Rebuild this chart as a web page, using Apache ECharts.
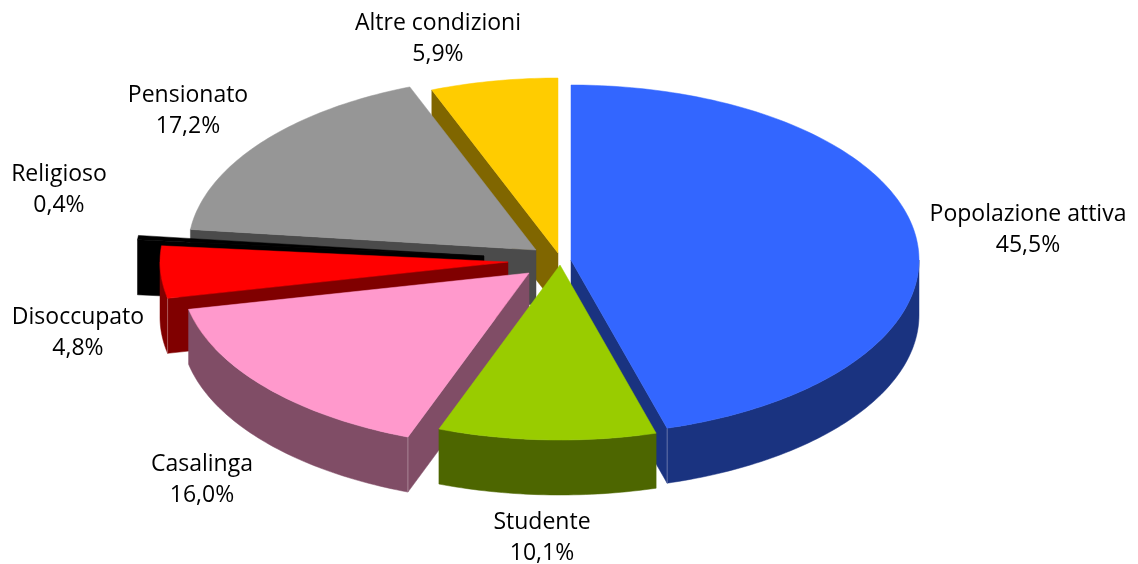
<!DOCTYPE html>
<html>
<head>
    <title>Condizione professionale</title>
    <meta charset="utf-8">
    <style>
        html, body { margin: 0; background: #fff; }
        #pieChart { width: 1138px; height: 564px; }
    </style>
    <script src="https://cdn.jsdelivr.net/npm/echarts@6/dist/echarts.min.js"></script>
</head>
<body>
    <div id="pieChart"></div>

    <script>
        // dati
        var categories = ['Popolazione attiva', 'Studente', 'Casalinga', 'Disoccupato', 'Religioso', 'Pensionato', 'Altre condizioni'];
        var values = [45.5, 10.1, 16.0, 4.8, 0.4, 17.2, 5.9];

        // stile e geometria della torta
        var topColors = ['#3366FF', '#99CC00', '#FF99CC', '#FF0000', '#000000', '#969696', '#FFCC00'];
        var wallColors = ['#1A3380', '#4D6600', '#804D66', '#800000', '#000000', '#4B4B4B', '#806600'];
        var explode = [[11, 4], [0, 9], [-31, 17], [-52, 6], [-76, 0], [-24, -6], [-2, -3]];
        var drawOrder = [5, 6, 4, 3, 2, 1, 0]; // yellow and grey at the back, green last
        var labelPos = [[1028, 230], [542, 538], [202, 480], [78, 333], [59, 190], [188, 111], [438, 39]];
        var cx = 560, cy = 256, rx = 348, ry = 175, depth = 55;

        var total = values.reduce(function (a, b) { return a + b; }, 0);

        var startAngles = [];
        var acc = 0;
        values.forEach(function (v, i) {
            startAngles[i] = acc / total * Math.PI * 2;
            acc += v;
        });

        function rimPoint(apex, a) {
            return [apex[0] + rx * Math.sin(a), apex[1] - ry * Math.cos(a)];
        }

        function down(p) {
            return [p[0], p[1] + depth];
        }

        function arcPoints(apex, from, to) {
            var pts = [];
            var n = Math.max(2, Math.ceil((to - from) / (Math.PI / 180)));
            for (var k = 0; k <= n; k++) {
                pts.push(rimPoint(apex, from + (to - from) * k / n));
            }
            return pts;
        }

        function sliceShape(params, api) {
            var i = api.value(0);
            var start = startAngles[i];
            var end = start + api.value(1) / total * Math.PI * 2;
            var apex = [cx + explode[i][0], cy + explode[i][1]];
            var order = drawOrder[i] * 10;

            var children = [];
            function poly(points, fill, z2) {
                children.push({
                    type: 'polygon',
                    shape: { points: points },
                    style: { fill: fill, stroke: fill, lineWidth: 0.5 },
                    z2: order + z2
                });
            }
            function seam(a) {
                var p = rimPoint(apex, a);
                children.push({
                    type: 'line',
                    shape: { x1: p[0], y1: p[1], x2: p[0], y2: p[1] + depth },
                    style: { stroke: 'rgba(255,255,255,0.3)', lineWidth: 1 },
                    z2: order + 3
                });
            }

            // parete esterna, solo la parte davanti
            var wallFrom = Math.max(start, Math.PI / 2);
            var wallTo = Math.min(end, Math.PI * 1.5);
            if (wallTo > wallFrom) {
                var wall = arcPoints(apex, wallFrom, wallTo);
                poly(wall.concat(wall.map(down).reverse()), wallColors[i], 1);
            }

            // tagli visibili
            var cut = [];
            if (Math.sin(start) < -0.001) cut.push(start);
            if (Math.sin(end) > 0.001) cut.push(end);
            cut.forEach(function (a) {
                var p = rimPoint(apex, a);
                poly([apex, p, down(p), down(apex)], wallColors[i], 2);
                if (Math.cos(a) < 0 && i != 4) seam(a);
            });

            // faccia superiore
            poly([apex].concat(arcPoints(apex, start, end)), topColors[i], 4);

            return { type: 'group', children: children };
        }

        function labelText(i) {
            return categories[i] + '\n' + values[i].toFixed(1).replace('.', ',') + '%';
        }

        var pieChart = echarts.init(document.getElementById('pieChart'));
        var pieOption = {
            animation: false,
            backgroundColor: '#fff',
            series: [
                {
                    name: 'Torta',
                    type: 'custom',
                    coordinateSystem: 'none',
                    silent: true,
                    data: values.map(function (v, i) { return [i, v]; }),
                    renderItem: sliceShape
                },
                {
                    name: 'Etichette',
                    type: 'custom',
                    coordinateSystem: 'none',
                    silent: true,
                    z: 5,
                    data: values.map(function (v, i) { return [i, v]; }),
                    renderItem: function (params, api) {
                        var i = api.value(0);
                        return {
                            type: 'text',
                            style: {
                                text: labelText(i),
                                x: labelPos[i][0],
                                y: labelPos[i][1],
                                textAlign: 'center',
                                textVerticalAlign: 'middle',
                                font: '23px "Open Sans"',
                                lineHeight: 31,
                                fill: '#000'
                            }
                        };
                    }
                }
            ]
        };
        pieChart.setOption(pieOption);
    </script>
</body>
</html>
